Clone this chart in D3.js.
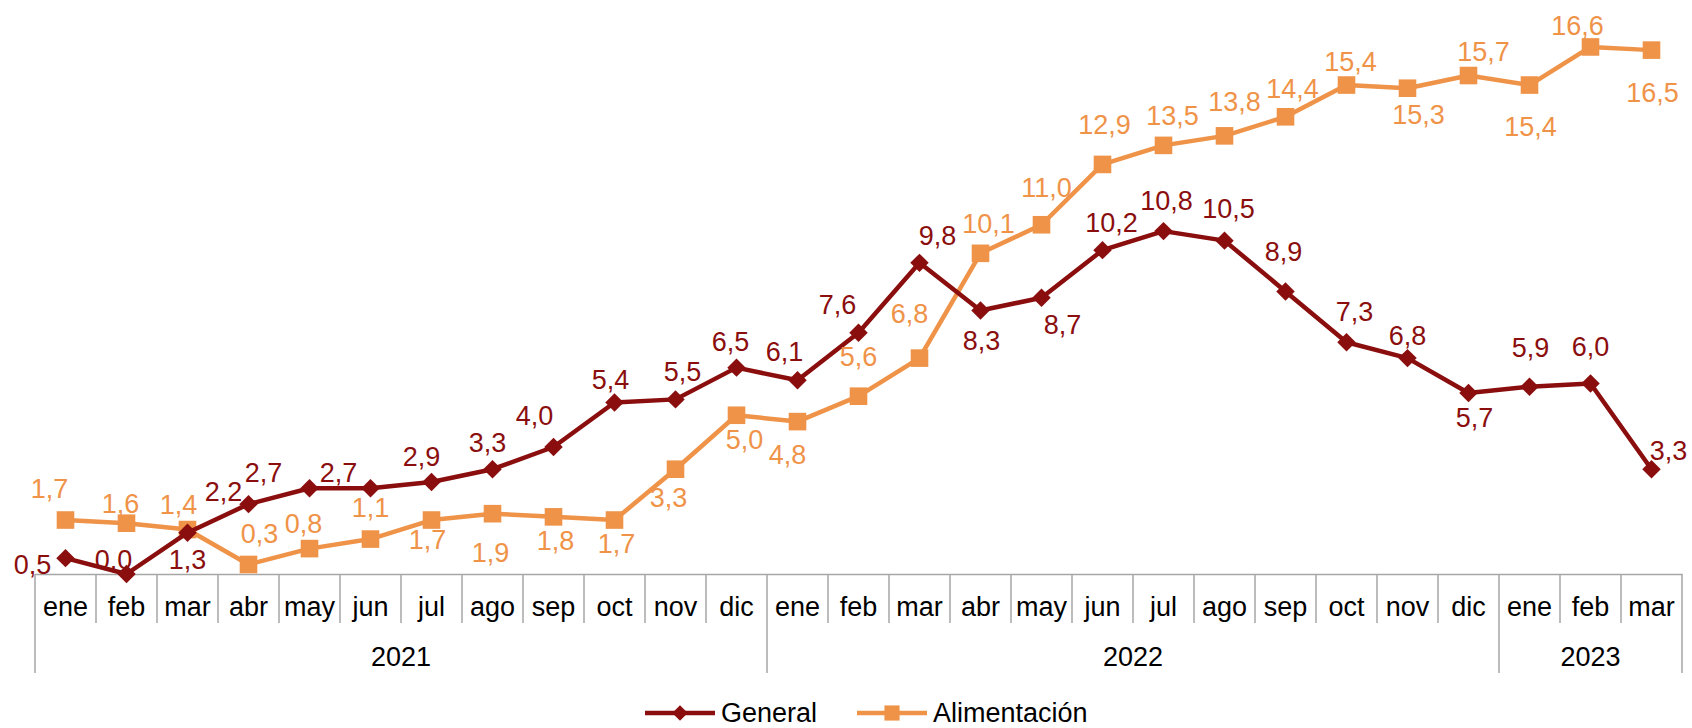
<!DOCTYPE html>
<html>
<head>
<meta charset="utf-8">
<script src="https://cdn.jsdelivr.net/npm/d3@7"></script>
<style>
  html, body { margin: 0; padding: 0; background: #fff; }
  svg { display: block; font-family: "Liberation Sans", Arial, sans-serif; }
</style>
</head>
<body>
<svg width="1692" height="728"></svg>
<script>
// data
const months = ["ene","feb","mar","abr","may","jun","jul","ago","sep","oct","nov","dic",
                "ene","feb","mar","abr","may","jun","jul","ago","sep","oct","nov","dic",
                "ene","feb","mar"];
const years = [
  { label: "2021", start: 0, end: 12 },
  { label: "2022", start: 12, end: 24 },
  { label: "2023", start: 24, end: 27 }
];
const general = [0.5, 0.0, 1.3, 2.2, 2.7, 2.7, 2.9, 3.3, 4.0, 5.4, 5.5, 6.5,
                 6.1, 7.6, 9.8, 8.3, 8.7, 10.2, 10.8, 10.5, 8.9, 7.3, 6.8, 5.7,
                 5.9, 6.0, 3.3];
const alimentacion = [1.7, 1.6, 1.4, 0.3, 0.8, 1.1, 1.7, 1.9, 1.8, 1.7, 3.3, 5.0,
                      4.8, 5.6, 6.8, 10.1, 11.0, 12.9, 13.5, 13.8, 14.4, 15.4, 15.3, 15.7,
                      15.4, 16.6, 16.5];

// label nudges (dx, dy) relative to each marker, as placed in the original
const genOffsets = [[-33,6],[-13,-14],[0,27],[-25,-13],[-46,-16],[-32,-16],[-10,-25],[-5,-27],[-19,-31],
                    [-4,-23],[7,-28],[-6,-26],[-13,-29],[-21,-28],[18,-27],[1,30],[21,27],[9,-28],
                    [3,-31],[4,-32],[-2,-40],[8,-31],[0,-23],[6,25],[1,-39],[0,-37],[17,-19]];
const aliOffsets = [[-16,-31],[-6,-20],[-9,-25],[11,-31],[-6,-25],[0,-32],[-4,20],[-2,39],[2,24],
                    [2,24],[-7,28],[8,24],[-10,33],[0,-40],[-10,-45],[8,-30],[5,-37],[2,-40],
                    [9,-30],[10,-34],[7,-28],[4,-24],[11,26],[15,-24],[1,41],[-13,-21],[1,42]];

const colGen = "#8B0E0E";
const colAli = "#EF9349";
const fontSize = 27;

const svg = d3.select("svg");
const left = 35, right = 1682, y0 = 574;

const x = d3.scaleBand().domain(d3.range(months.length)).range([left, right]);
const y = d3.scaleLinear().domain([0, 18]).range([y0, y0 - 18 * 31.75]);
const cx = i => x(i) + x.bandwidth() / 2;

// axis
const axis = svg.append("g").attr("transform", `translate(0,${y0})`)
  .call(d3.axisBottom(x).tickSize(0).tickPadding(0).tickFormat(i => months[i]));
axis.select(".domain").attr("stroke", "#a6a6a6").attr("stroke-width", 1.5);
axis.selectAll(".tick text")
  .attr("y", 33).attr("dy", "0.35em")
  .attr("font-size", fontSize).attr("font-family", "Liberation Sans, Arial, sans-serif")
  .attr("fill", "#000");

// month separators
const sepG = svg.append("g").attr("stroke", "#a6a6a6").attr("stroke-width", 1.5);
d3.range(months.length + 1).forEach(i => {
  const xx = i < months.length ? x(i) : right;
  const isYear = years.some(yr => yr.start === i) || i === months.length;
  sepG.append("line")
    .attr("x1", xx).attr("x2", xx)
    .attr("y1", y0).attr("y2", isYear ? 673 : 623);
});

// year labels
svg.append("g").selectAll("text").data(years).join("text")
  .attr("x", d => (x(d.start) + (d.end < months.length ? x(d.end) : right)) / 2)
  .attr("y", 657).attr("dy", "0.35em")
  .attr("text-anchor", "middle").attr("font-size", fontSize).attr("fill", "#000")
  .text(d => d.label);

const line = d3.line().x((d, i) => cx(i)).y(d => y(d));

const fmt = v => v.toFixed(1).replace(".", ",");

function drawSeries(values, color, symbol, size, rotate) {
  const g = svg.append("g");
  g.append("path").datum(values)
    .attr("fill", "none").attr("stroke", color).attr("stroke-width", 4.5)
    .attr("stroke-linejoin", "round").attr("d", line);
  g.selectAll("path.m").data(values).join("path").attr("class", "m")
    .attr("d", d3.symbol().type(symbol).size(size))
    .attr("transform", (d, i) => `translate(${cx(i)},${y(d)}) rotate(${rotate})`)
    .attr("fill", color);
  return g;
}

function drawLabels(values, color, offsets) {
  svg.append("g").selectAll("text").data(values).join("text")
    .attr("x", (d, i) => cx(i) + offsets[i][0])
    .attr("y", (d, i) => y(d) + offsets[i][1])
    .attr("dy", "0.35em").attr("text-anchor", "middle")
    .attr("font-size", fontSize).attr("fill", color)
    .text(fmt);
}

drawSeries(alimentacion, colAli, d3.symbolSquare, 310, 0);
drawSeries(general, colGen, d3.symbolSquare, 170, 45);
drawLabels(general, colGen, genOffsets);
drawLabels(alimentacion, colAli, aliOffsets);

// legend
const legendY = 713;
const legend = [
  { name: "General", color: colGen, symbol: d3.symbolSquare, size: 120, rot: 45, x: 645 },
  { name: "Alimentación", color: colAli, symbol: d3.symbolSquare, size: 230, rot: 0, x: 857 }
];
const lg = svg.append("g");
legend.forEach(l => {
  lg.append("line").attr("x1", l.x).attr("x2", l.x + 70).attr("y1", legendY).attr("y2", legendY)
    .attr("stroke", l.color).attr("stroke-width", 4.5);
  lg.append("path").attr("d", d3.symbol().type(l.symbol).size(l.size)())
    .attr("transform", `translate(${l.x + 35},${legendY}) rotate(${l.rot})`).attr("fill", l.color);
  lg.append("text").attr("x", l.x + 76).attr("y", legendY).attr("dy", "0.35em")
    .attr("font-size", fontSize).attr("fill", "#000").text(l.name);
});
</script>
</body>
</html>
